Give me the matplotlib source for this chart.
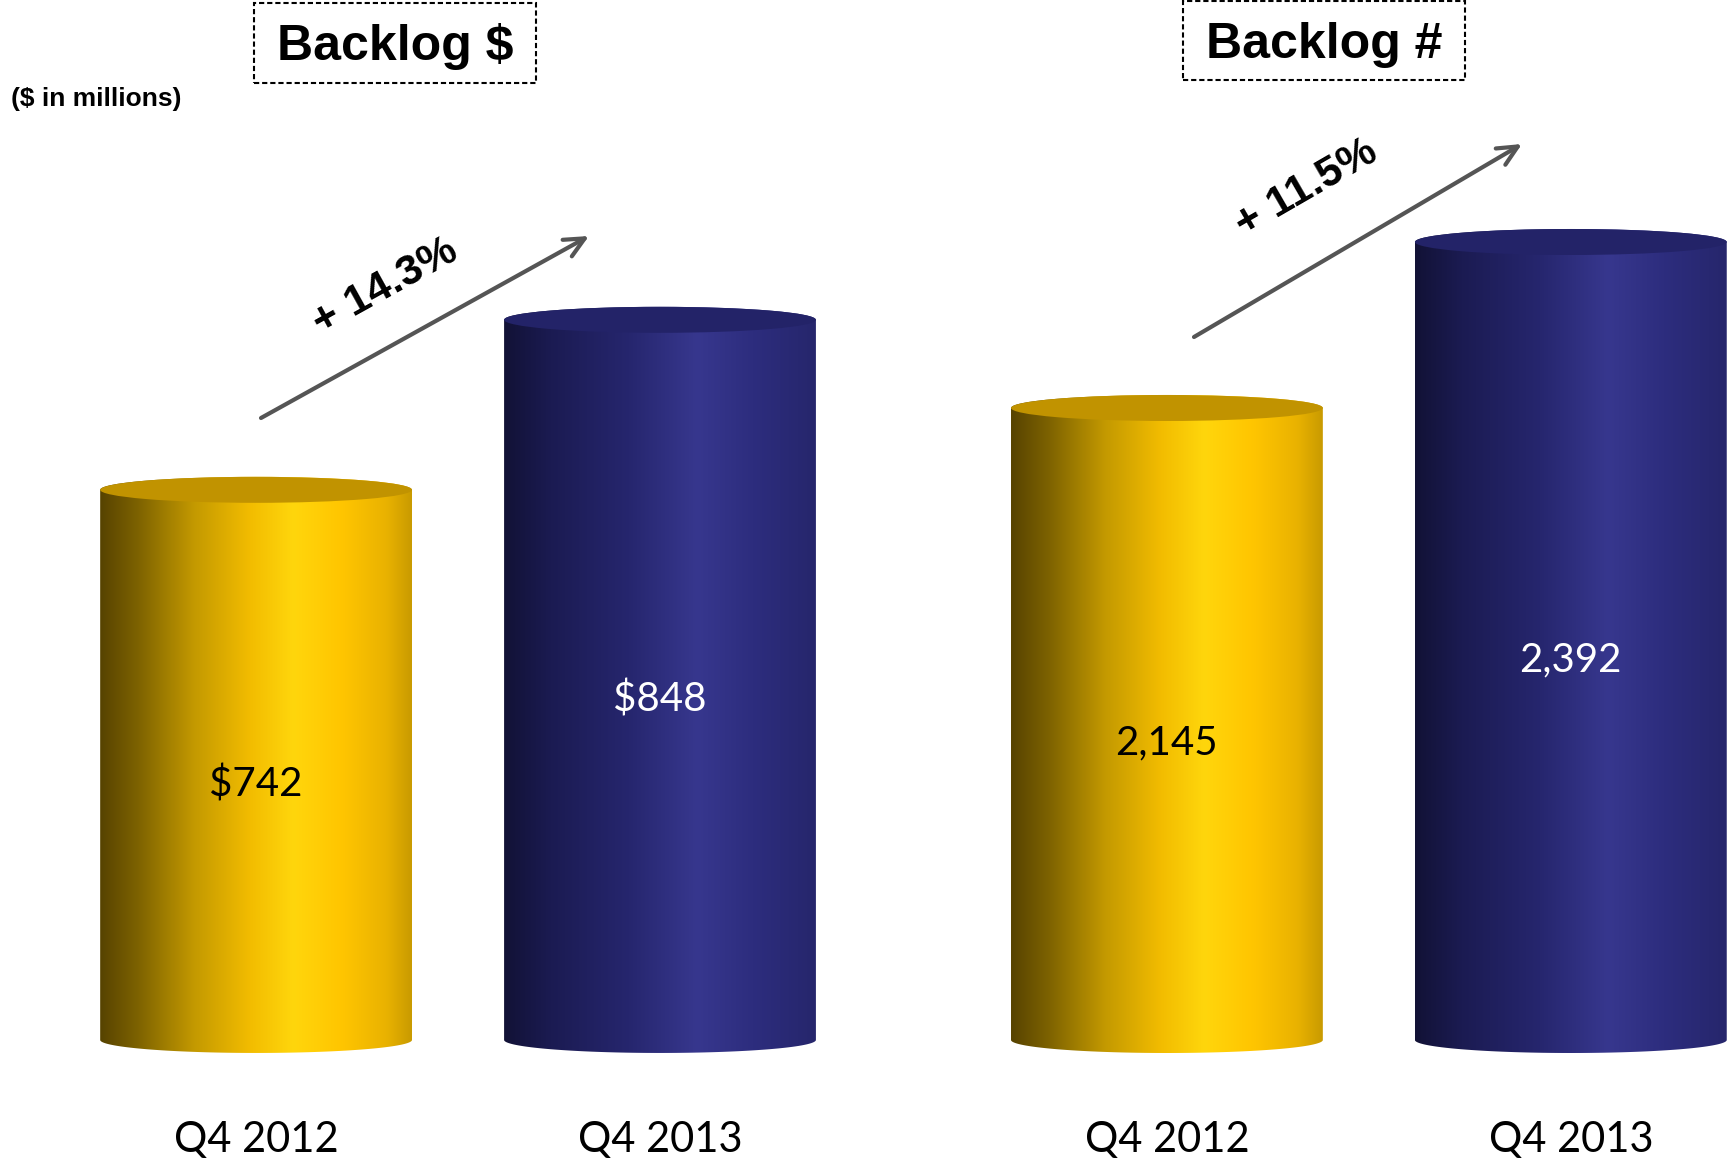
import numpy as np
import matplotlib
matplotlib.use('Agg')
import matplotlib.pyplot as plt
from matplotlib.colors import LinearSegmentedColormap
from matplotlib.patches import Ellipse, Polygon, Rectangle, FancyArrowPatch

quarters = ['Q4 2012', 'Q4 2013']
backlog_dollars = [742, 848]
backlog_count = [2145, 2392]
dollar_labels = ['$742', '$848']
count_labels = ['2,145', '2,392']
growth_labels = ['+ 14.3%', '+ 11.5%']
panel_titles = ['Backlog $', 'Backlog #']

W, H = 1732, 1158
plt.rcParams['font.family'] = ['Liberation Sans', 'DejaVu Sans']

gold = LinearSegmentedColormap.from_list('gold', [
    (0.0, '#574300'), (0.12, '#7d6200'), (0.30, '#c39900'), (0.48, '#f2bc00'),
    (0.62, '#ffd60c'), (0.78, '#ffc500'), (0.92, '#e9b200'), (1.0, '#c99b00')])
navy = LinearSegmentedColormap.from_list('navy', [
    (0.0, '#121236'), (0.15, '#1b1b52'), (0.40, '#26266e'), (0.62, '#37378e'),
    (0.80, '#2d2d7e'), (1.0, '#26266c')])
body_maps = [gold, navy]
top_colors = ['#c19300', '#232368']
text_colors = ['black', 'white']


def fx(px):
    return px / W


def fy(py):
    return 1 - py / H


def cylinder(ax, x, top, base, width, cmap, top_color, ry):
    x0, x1 = x - width / 2, x + width / 2
    t = np.linspace(np.pi, 2 * np.pi, 80)
    bottom = np.column_stack([x + width / 2 * np.cos(t), base + ry * np.sin(t)])
    t = np.linspace(0, np.pi, 80)
    cap = np.column_stack([x + width / 2 * np.cos(t), top + ry * np.sin(t)])
    outline = Polygon(np.vstack([bottom, cap]), closed=True, fc='none', ec='none')
    ax.add_patch(outline)
    im = ax.imshow(np.linspace(0, 1, 256)[None, :], cmap=cmap, aspect='auto',
                   extent=(x0, x1, base - ry, top + ry), interpolation='bicubic',
                   zorder=1)
    im.set_clip_path(outline)
    ax.add_patch(Ellipse((x, top), width, 2 * ry, fc=top_color, ec='none', zorder=2))


fig = plt.figure(figsize=(W / 100, H / 100), dpi=100)

# each panel: (values, labels, axes rect, xlim, ylim, bar floor)
panels = [
    (backlog_dollars, dollar_labels, [0, 0, 0.5, 1], (-0.634, 1.510), (325.4, 1047.4), 399),
    (backlog_count, count_labels, [0.5, 0, 0.5, 1], (-0.745, 1.399), (1028.9, 2752.1), 1204.5),
]
bar_width = 0.772
ry_px = 13

for values, labels, rect, xlim, ylim, floor in panels:
    ax = fig.add_axes(rect)
    ax.set_xlim(*xlim)
    ax.set_ylim(*ylim)
    ax.axis('off')
    ry = ry_px * (ylim[1] - ylim[0]) / H
    for i, (v, lab) in enumerate(zip(values, labels)):
        cylinder(ax, i, v, floor, bar_width, body_maps[i], top_colors[i], ry)
        ax.annotate(lab, xy=(i, (v + floor) / 2), xytext=(0, -14),
                    textcoords='offset points', ha='center', va='center',
                    fontsize=29, family='Lato', color=text_colors[i], zorder=3)
    for i, q in enumerate(quarters):
        ax.text(i, fy(1152), q, transform=ax.get_xaxis_transform(), ha='center',
                va='baseline', fontsize=30, family='Lato', color='black')
    ax.set_xlim(*xlim)
    ax.set_ylim(*ylim)

# dashed title boxes
title_boxes = [(254, 3, 536, 83), (1183, 1, 1465, 80)]
for title, (l, t, r, b) in zip(panel_titles, title_boxes):
    fig.add_artist(Rectangle((fx(l), fy(b)), fx(r - l), (b - t) / H, fill=False,
                             ec='black', lw=1.5, ls=(0, (2.5, 1.4)),
                             transform=fig.transFigure))
    fig.text(fx((l + r) / 2), fy((t + b) / 2 + 4), title, ha='center', va='center',
             fontsize=36, fontweight='bold')

fig.text(fx(11), fy(99), '($ in millions)', ha='left', va='center',
         fontsize=19, fontweight='bold')

# growth arrows
arrows = [((261, 418), (589, 236)), ((1194, 337), (1522, 144))]
growth_pos = [((385, 287), 29), ((1306, 188), 30)]
for (p0, p1), lab, (pos, rot) in zip(arrows, growth_labels, growth_pos):
    fig.add_artist(FancyArrowPatch(
        (fx(p0[0]), fy(p0[1])), (fx(p1[0]), fy(p1[1])),
        arrowstyle='->,head_length=0.72,head_width=0.34', mutation_scale=20,
        lw=3, color='#555555', transform=fig.transFigure, shrinkA=0, shrinkB=0))
    fig.text(fx(pos[0]), fy(pos[1]), lab, ha='center', va='center', rotation=rot,
             rotation_mode='anchor', fontsize=31, fontweight='bold')

fig.savefig('out.png', dpi=100, facecolor='white')
